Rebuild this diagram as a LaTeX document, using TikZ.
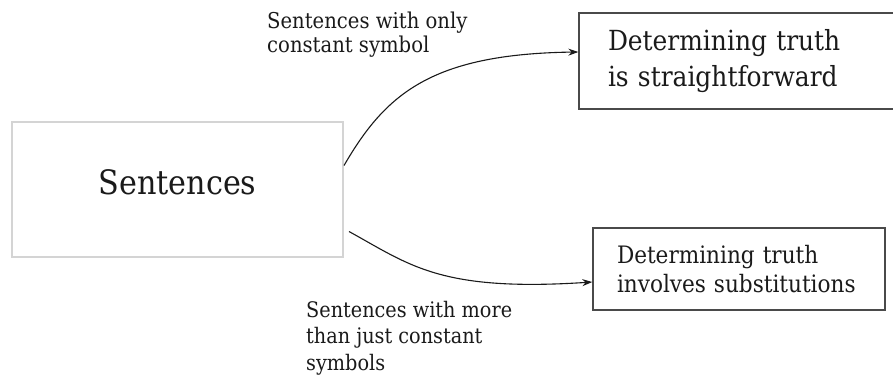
\documentclass[tikz,border=0pt]{standalone}
\usepackage{fontspec}
\setmainfont{DejaVu Serif Condensed}
\usetikzlibrary{arrows.meta}
\definecolor{inkc}{HTML}{1A1A1A}
\definecolor{palebox}{HTML}{D4D4D4}
\definecolor{darkbox}{HTML}{4A4A4A}
\tikzset{
  srcbox/.style={draw=palebox, line width=2pt, minimum width=331pt, minimum height=135pt,
    text=inkc, text depth=14pt, font=\fontsize{33.6}{40}\selectfont},
  resultbox/.style={draw=darkbox, line width=1.4pt, align=left, text=inkc},
  edgelabel/.style={align=left, text=inkc, inner sep=0pt, anchor=north west},
  flow/.style={draw=inkc, line width=1.1pt, -{Stealth[length=10pt,width=7pt]}}
}
\begin{document}
\begin{tikzpicture}[x=1pt,y=-1pt]
  \useasboundingbox (0,0) rectangle (893,375);
  \begin{scope}
    \clip (0,0) rectangle (893,375);
    % source box
    \node[srcbox] (sent) at (177.5,189.5) {Sentences};
    % outcome boxes
    \node[resultbox, inner xsep=29pt, text width=268pt, minimum height=96pt,
      font=\fontsize{27.7}{36}\selectfont] (easy) at (742,61)
      {Determining truth\\is straightforward};
    \node[resultbox, inner xsep=24pt, text width=244pt, minimum height=82pt,
      font=\fontsize{24}{29}\selectfont] (hard) at (739,269)
      {Determining truth\\involves substitutions};
  \end{scope}
  % edge labels
  \node[edgelabel, font=\fontsize{21.8}{24}\selectfont] (lblA) at (267,12)
    {Sentences with only\\constant symbol};
  \node[edgelabel, font=\fontsize{21.4}{26.5}\selectfont] (lblB) at (306,301)
    {Sentences with more\\than just constant\\symbols};
  % connectors
  \draw[flow] ([yshift=24pt]sent.east) .. controls (385,95) and (430,54) .. ([yshift=9pt]easy.west);
  \draw[flow] ([xshift=5pt,yshift=-42pt]sent.east) .. controls (410,265) and (440,292) .. ([yshift=-13pt]hard.west);
\end{tikzpicture}
\end{document}
